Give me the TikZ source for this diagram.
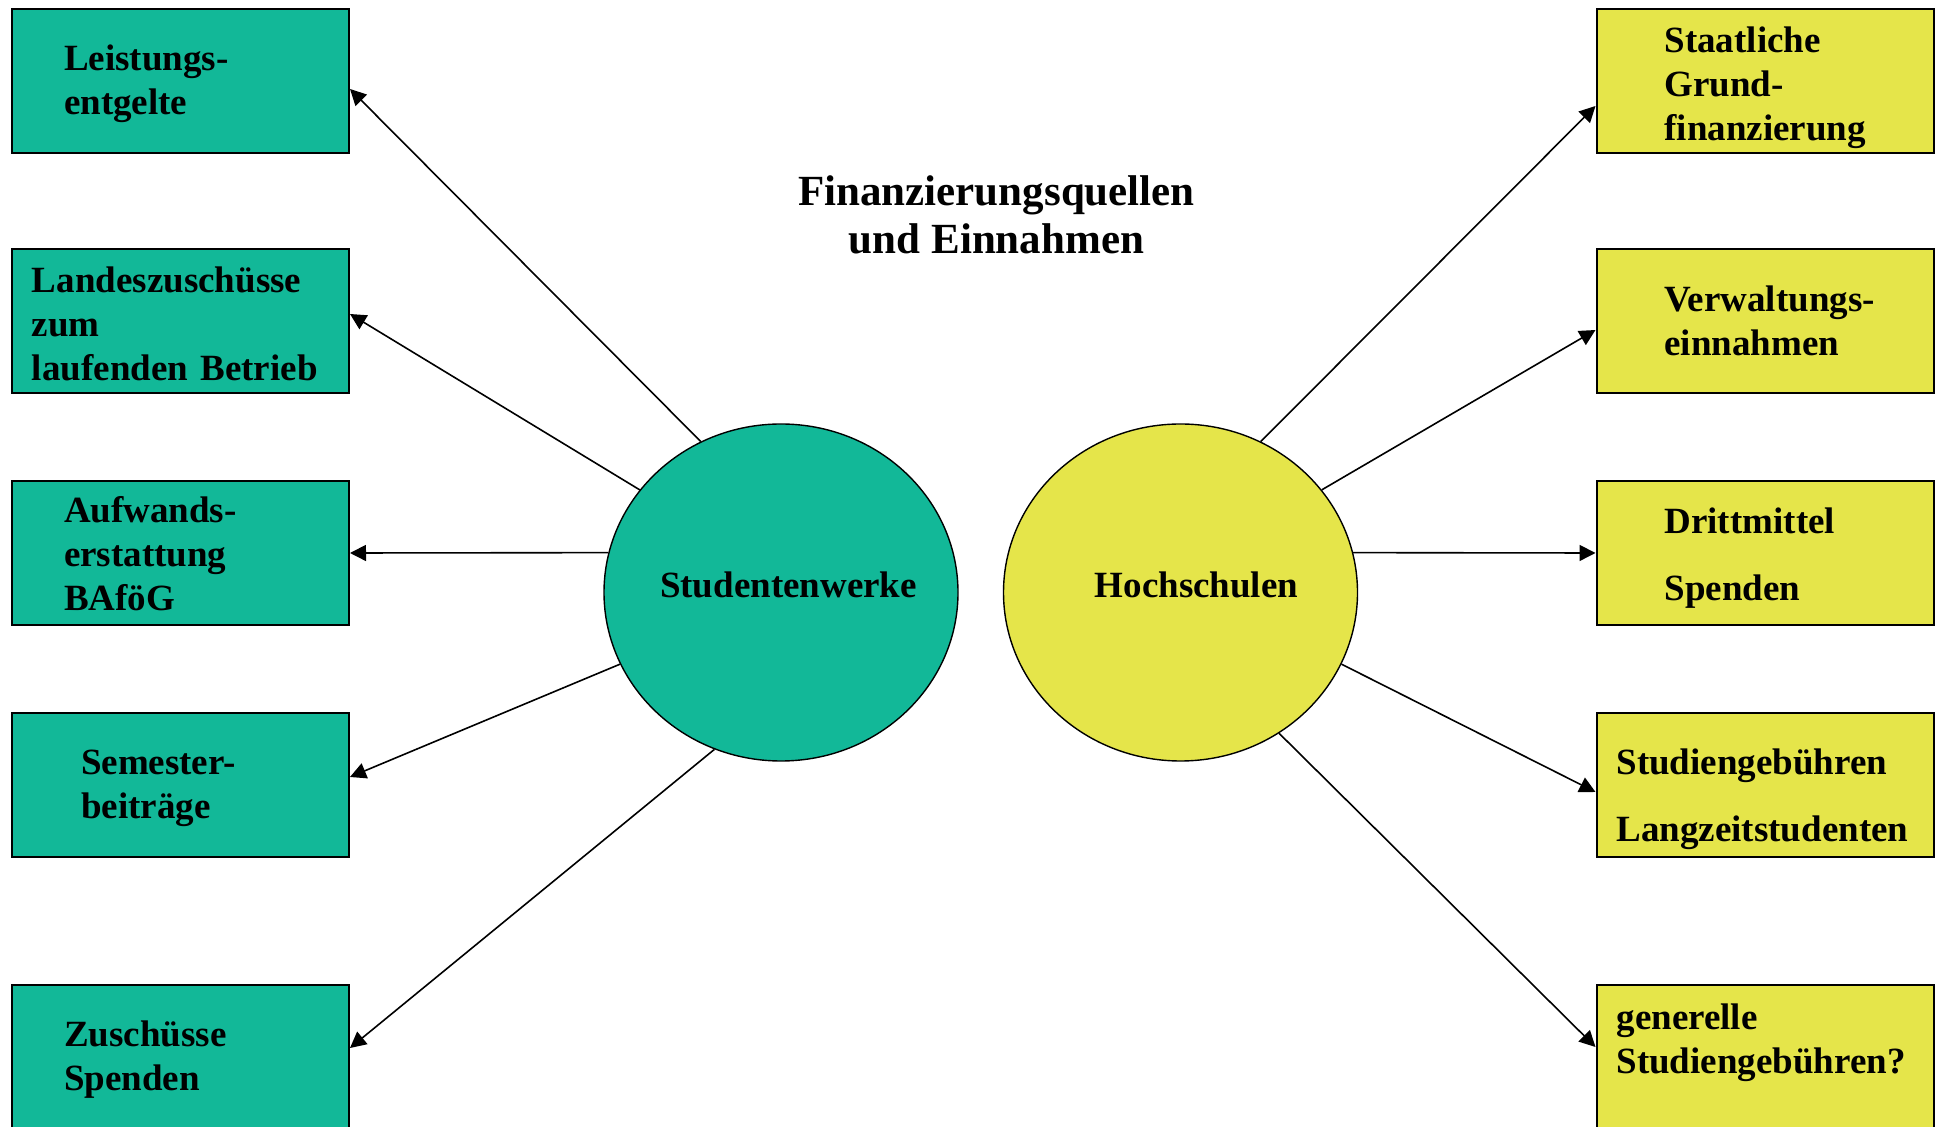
\documentclass[tikz,border=0pt]{standalone}
\usepackage{fontspec}
\setmainfont{Liberation Serif}
\usetikzlibrary{shapes.geometric, arrows.meta, positioning}
\definecolor{stwgreen}{RGB}{18,184,152}
\definecolor{hsyellow}{RGB}{229,229,74}

\begin{document}
\begin{tikzpicture}[
    x=0.5pt, y=-0.5pt,
    font=\fontsize{18.5}{22}\selectfont\bfseries,
    box/.style={rectangle, draw, line width=1pt, minimum width=168.5pt, minimum height=72pt, inner xsep=0pt, inner ysep=0pt, align=left, text width=#1},
    stwbox/.style={box=#1, fill=stwgreen},
    hsbox/.style={box=#1, fill=hsyellow},
    hub/.style={ellipse, draw, line width=0.7pt, minimum width=177pt, minimum height=168.5pt, inner sep=0pt, text height=10pt, text depth=4.5pt},
    flow/.style={-{Triangle[length=8pt, width=8pt]}, line width=0.8pt}
]
\useasboundingbox (0,0) rectangle (1939,1127);

\node[stwbox=116.5pt] (lg) at (180.5,81) {\rule{0pt}{15.5pt}Leistungs-\\entgelte};
\node[stwbox=148.5pt, below=47pt of lg] (lz) {\rule{0pt}{15.5pt}Landeszuschüsse\\zum\\laufenden Betrieb};
\node[stwbox=116.5pt, below=43pt of lz] (bafoeg) {\rule{0pt}{14pt}Aufwands-\\erstattung\\BAföG};
\node[stwbox=99.5pt, below=43pt of bafoeg] (sb) {\rule{0pt}{15.5pt}Semester-\\beiträge};
\node[stwbox=116.5pt, below=63pt of sb] (zs) {\rule{0pt}{15.5pt}Zuschüsse\\Spenden};

\node[hsbox=100.5pt] (grund) at (1765,81) {\rule{0pt}{20pt}Staatliche\\Grund-\\finanzierung};
\node[hsbox=100.5pt, below=47pt of grund] (verw) {\mbox{Verwaltungs-}\\einnahmen};
\node[hsbox=100.5pt, below=43pt of verw] (dritt) {\rule{0pt}{17.5pt}Drittmittel\\[11.5pt]Spenden};
\node[hsbox=148.5pt, below=43pt of dritt] (lzs) {\rule{0pt}{27.5pt}Studiengebühren\\[11.5pt]Langzeitstudenten};
\node[hsbox=148.5pt, below=63pt of lzs] (gen) {generelle\\Studiengebühren?\rule[-18pt]{0pt}{18pt}};

\node[hub, fill=stwgreen] (stw) at (781,592.5) {\makebox[0pt]{\hspace*{7.5pt}Studentenwerke}};
\node[hub, fill=hsyellow] (hs) at (1180.5,592.5) {\makebox[0pt]{\hspace*{16pt}Hochschulen}};

\node[font=\fontsize{21.5}{24}\selectfont\bfseries, align=center] (title) at (996.5,215) {Finanzierungsquellen\\und Einnahmen};

\draw[flow] (stw.118) -- ([yshift=-4pt]lg.east);
\draw[flow] (stw.144) -- ([yshift=3.5pt]lz.east);
\draw[flow] (stw.167) -- (bafoeg.east);
\draw[flow] (stw.204) -- ([yshift=4pt]sb.east);
\draw[flow] (stw.247) -- ([yshift=4.5pt]zs.east);

\draw[flow] (hs.62) -- ([yshift=-12.5pt]grund.west);
\draw[flow] (hs.36) -- ([yshift=-4.5pt]verw.west);
\draw[flow] (hs.13) -- (dritt.west);
\draw[flow] (hs.336) -- ([yshift=-3.5pt]lzs.west);
\draw[flow] (hs.305) -- ([yshift=5pt]gen.west);

\end{tikzpicture}
\end{document}
